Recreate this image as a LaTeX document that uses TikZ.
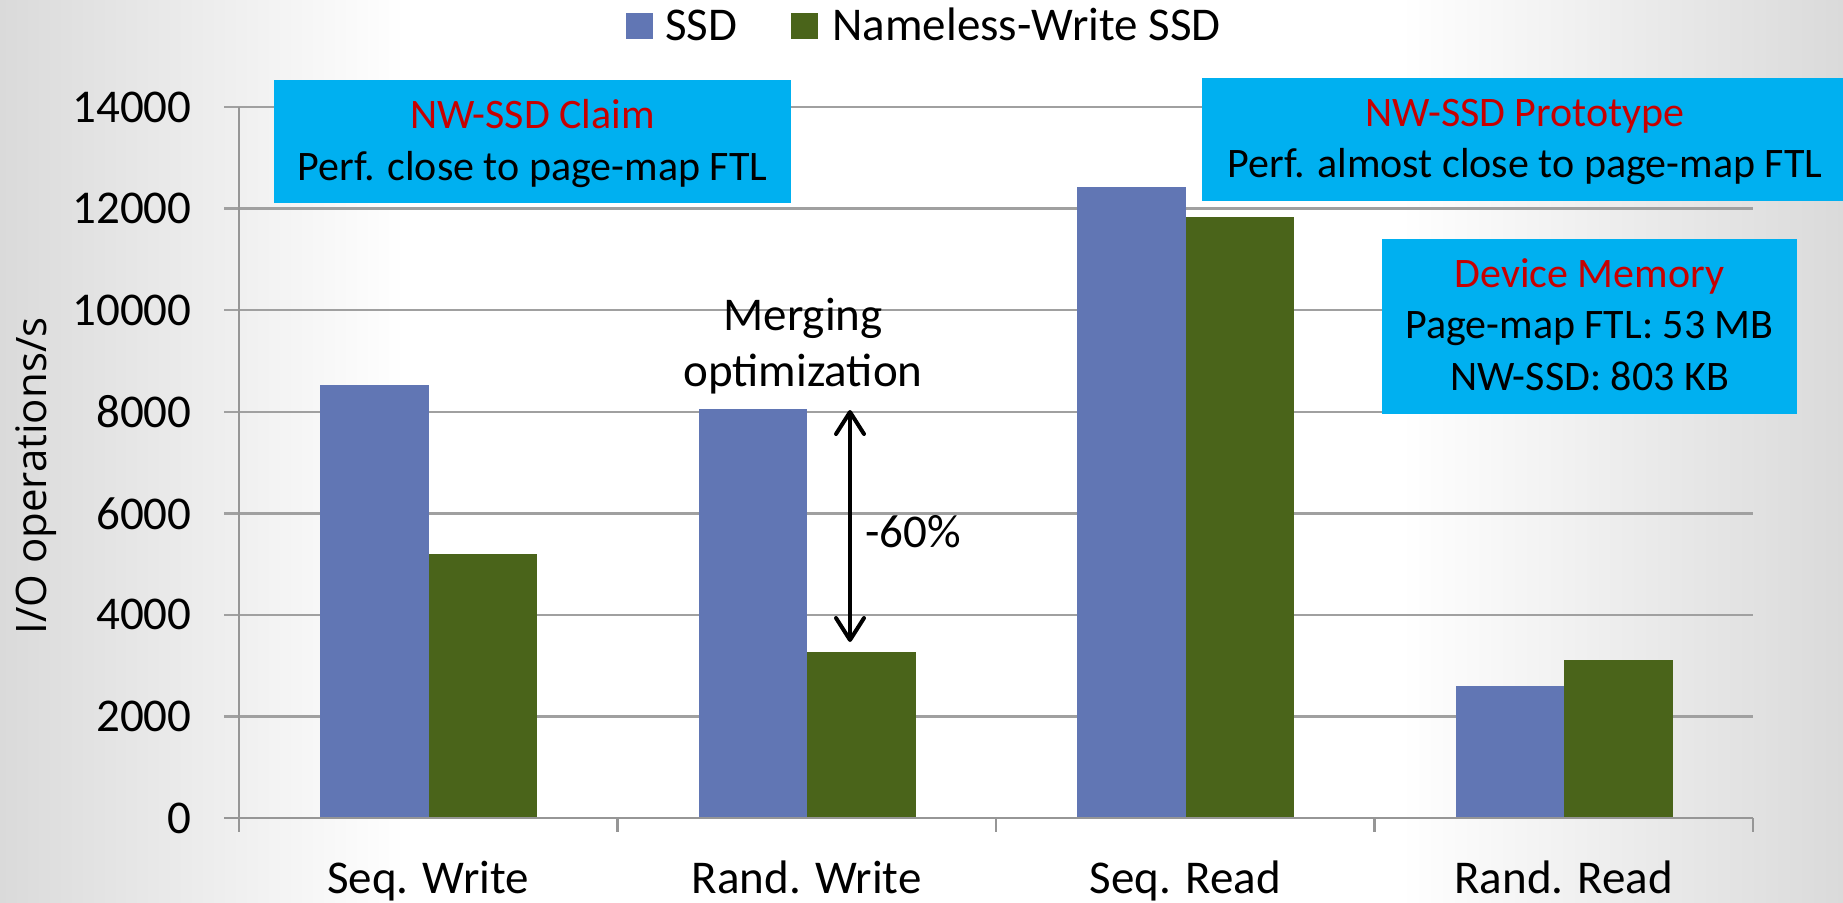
\documentclass[tikz,border=0pt]{standalone}
\usepackage{fontspec}
\setmainfont{Carlito}
\newfontfamily\axisfont{Open Sans}
\usetikzlibrary{arrows.meta}

\definecolor{ssdblue}{RGB}{97,118,180}
\definecolor{nwgreen}{RGB}{74,100,26}
\definecolor{calloutcyan}{RGB}{0,176,240}
\definecolor{calloutred}{RGB}{200,0,0}
\definecolor{gridgray}{RGB}{160,160,160}
\definecolor{axisgray}{RGB}{150,150,150}
\definecolor{edgegray}{RGB}{218,218,218}

% slide background: grey at both sides, white in the middle
\pgfdeclarehorizontalshading{slidebg}{100bp}{color(0bp)=(edgegray); color(25bp)=(edgegray); color(36bp)=(white); color(63bp)=(white); color(75bp)=(edgegray); color(100bp)=(edgegray)}

\begin{document}
\begin{tikzpicture}[x=0.5pt,y=-0.5pt,
  bigtext/.style={font=\fontsize{23.5pt}{28pt}\selectfont, inner sep=0pt},
  boxtext/.style={font=\fontsize{21pt}{26pt}\selectfont, inner sep=0pt, anchor=base},
  gridline/.style={draw=gridgray, line width=1.2pt},
  axisline/.style={draw=axisgray, line width=1.2pt},
  callout/.style={fill=calloutcyan, inner sep=0pt, draw=none},
  gaparrow/.style={line width=2pt, {Straight Barb[length=11pt,width=14pt,round]}-{Straight Barb[length=11pt,width=14pt,round]}}
]
\useasboundingbox (0,0) rectangle (1843,902);
\shade[shading=slidebg] (0,0) rectangle (1843,902);

% horizontal grid and value labels
\foreach \k in {0,...,7}{
  \pgfmathsetmacro\gy{818-101.57*\k}
  \pgfmathtruncatemacro\lab{2000*\k}
  \draw[gridline] (224,\gy) -- (1753,\gy);
  \node[bigtext, anchor=east] (ylab\k) at (192,\gy) {\lab};
}

% bars: SSD (blue) and Nameless-Write SSD (green)
\foreach \i/\a/\b in {0/8530/5192,1/8053/3275,2/12418/11834,3/2606/3111}{
  \pgfmathsetmacro\xl{320+378.5*\i}
  \fill[ssdblue] (\xl,818) rectangle ({\xl+108.5},{818-0.050786*\a});
  \fill[nwgreen] ({\xl+108.5},818) rectangle ({\xl+217},{818-0.050786*\b});
}

% axes
\draw[axisline] (224,818) -- (1753,818);
\draw[axisline] (239,107) -- (239,832);
\foreach \tx in {617.5,996,1374.5,1753}{
  \draw[axisline] (\tx,818) -- (\tx,832);
}

% category labels
\node[bigtext, anchor=base] (cat1) at (428.25,893) {Seq. Write};
\node[bigtext, anchor=base] (cat2) at (806.75,893) {Rand. Write};
\node[bigtext, anchor=base] (cat3) at (1185.25,893) {Seq. Read};
\node[bigtext, anchor=base] (cat4) at (1563.75,893) {Rand. Read};

% axis title
\node[font=\axisfont\fontsize{21pt}{26pt}\selectfont, inner sep=0pt, rotate=90, anchor=base] (ytitle) at (46.5,476) {I/O operations/s};

% legend
\fill[ssdblue] (626,13) rectangle (653,39);
\node[bigtext, anchor=base west] (legssd) at (665,40) {SSD};
\fill[nwgreen] (791,13) rectangle (818,39);
\node[bigtext, anchor=base west] (legnw) at (832,40) {Nameless-Write SSD};

% callout boxes
\node[callout, minimum width=258.5pt, minimum height=61.5pt] (claimbox) at (532.5,141.5) {};
\node[boxtext, text=calloutred] (claimhead) at (532.5,128) {NW-SSD Claim};
\node[boxtext] (claimbody) at (532.5,180) {Perf. close to page-map FTL};

\node[callout, minimum width=324pt, minimum height=61.5pt] (protobox) at (1526,139.5) {};
\node[boxtext, text=calloutred] (protohead) at (1525,126.7) {NW-SSD Prototype};
\node[boxtext] (protobody) at (1525,177) {Perf. almost close to page-map FTL};

\node[callout, minimum width=207.5pt, minimum height=87.5pt] (membox) at (1589.5,326.5) {};
\node[boxtext, text=calloutred] (memhead) at (1589.5,287.3) {Device Memory};
\node[boxtext] (memline1) at (1589.5,338.3) {Page-map FTL: 53 MB};
\node[boxtext] (memline2) at (1589.5,390) {NW-SSD: 803 KB};

% merging annotation
\node[bigtext, anchor=base] (merge1) at (803,330) {Merging};
\node[bigtext, anchor=base] (merge2) at (803,386.7) {optimization};
\coordinate (gaptop) at (850,410);
\coordinate (gapbot) at (850,642);
\draw[gaparrow] (gaptop) -- (gapbot);
\node[bigtext, anchor=base west] (gaplabel) at (865,547) {-60\%};
\end{tikzpicture}
\end{document}
